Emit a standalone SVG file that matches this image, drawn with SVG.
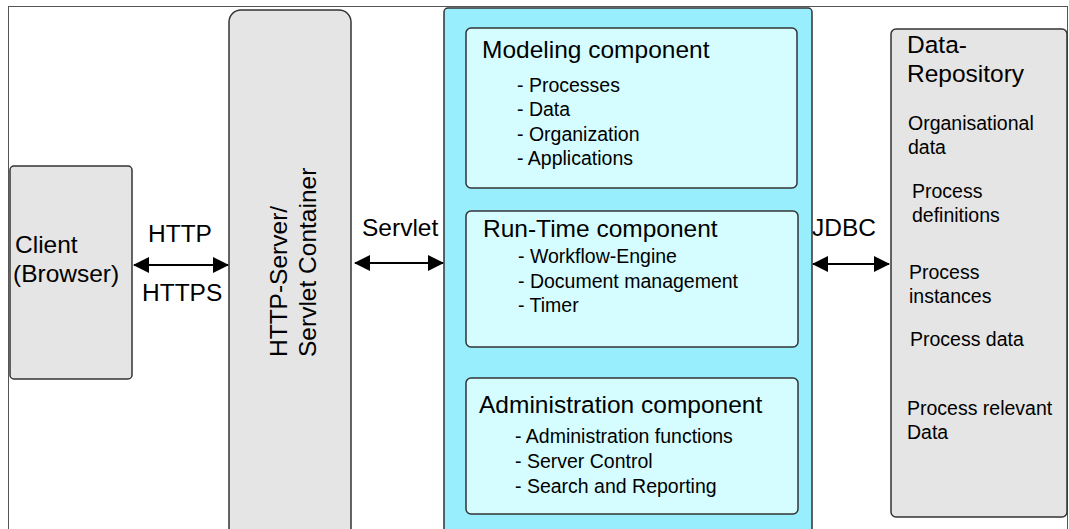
<svg xmlns="http://www.w3.org/2000/svg" width="1069" height="529" viewBox="0 0 1069 529">
<defs>
<style>
text{font-family:"Liberation Sans",Arial,sans-serif;fill:#000}
.t{font-size:24.5px}
.i{font-size:19.5px}
.gray{fill:#e5e5e5;stroke:#333;stroke-width:1.5}
.inner{fill:#d5fdff;stroke:#333;stroke-width:1.5}
.conn{stroke:#000;stroke-width:2;fill:none}
</style>
<marker id="ah" markerWidth="16" markerHeight="16" viewBox="0 0 16 16" refX="15" refY="8" orient="auto-start-reverse" markerUnits="userSpaceOnUse">
<path d="M0,0 L16,8 L0,16 Z" fill="#000"/>
</marker>
</defs>
<rect x="0" y="0" width="1069" height="529" fill="#fff"/>
<rect id="frame" x="8.5" y="6.5" width="1059" height="530" fill="none" stroke="#555" stroke-width="1"/>

<g id="client">
<rect class="gray" x="10" y="166" width="122" height="213" rx="4"/>
<text class="t" x="15" y="253">Client</text>
<text class="t" x="13" y="282">(Browser)</text>
</g>

<g id="http-server">
<rect class="gray" x="229" y="10" width="122" height="530" rx="12"/>
<text class="t" transform="translate(287,357) rotate(-90)">HTTP-Server/</text>
<text class="t" transform="translate(316,357) rotate(-90)">Servlet Container</text>
</g>

<g id="engine">
<rect x="444" y="8" width="368" height="530" rx="4" fill="#99eefd" stroke="#333" stroke-width="1.5"/>
</g>

<g id="modeling">
<rect class="inner" x="466" y="28" width="331" height="160" rx="5"/>
<text class="t" x="482" y="58">Modeling component</text>
<text class="i" x="517" y="92">- Processes</text>
<text class="i" x="517" y="116">- Data</text>
<text class="i" x="517" y="141">- Organization</text>
<text class="i" x="517" y="165">- Applications</text>
</g>

<g id="runtime">
<rect class="inner" x="466" y="211" width="332" height="136" rx="5"/>
<text class="t" x="483" y="237">Run-Time component</text>
<text class="i" x="518" y="263">- Workflow-Engine</text>
<text class="i" x="518" y="288">- Document management</text>
<text class="i" x="518" y="312">- Timer</text>
</g>

<g id="admin">
<rect class="inner" x="466" y="378" width="332" height="136" rx="5"/>
<text class="t" x="479" y="413">Administration component</text>
<text class="i" x="515" y="443">- Administration functions</text>
<text class="i" x="515" y="468">- Server Control</text>
<text class="i" x="515" y="493">- Search and Reporting</text>
</g>

<g id="repository">
<rect class="gray" x="891" y="29" width="176" height="488" rx="5"/>
<text class="t" x="907" y="53">Data-</text>
<text class="t" x="907" y="82">Repository</text>
<text class="i" x="908" y="130">Organisational</text>
<text class="i" x="908" y="154">data</text>
<text class="i" x="912" y="198">Process</text>
<text class="i" x="912" y="222">definitions</text>
<text class="i" x="909" y="279">Process</text>
<text class="i" x="909" y="303">instances</text>
<text class="i" x="910" y="346">Process data</text>
<text class="i" x="907" y="415">Process relevant</text>
<text class="i" x="907" y="439">Data</text>
</g>

<g id="connectors">
<line class="conn" x1="134" y1="265" x2="228" y2="265" marker-start="url(#ah)" marker-end="url(#ah)"/>
<line class="conn" x1="355" y1="263" x2="443" y2="263" marker-start="url(#ah)" marker-end="url(#ah)"/>
<line class="conn" x1="813" y1="264" x2="889" y2="264" marker-start="url(#ah)" marker-end="url(#ah)"/>
<text class="t" x="148" y="242">HTTP</text>
<text class="t" x="142" y="301">HTTPS</text>
<text class="t" x="362" y="236">Servlet</text>
<text class="t" x="812" y="236">JDBC</text>
</g>
</svg>
